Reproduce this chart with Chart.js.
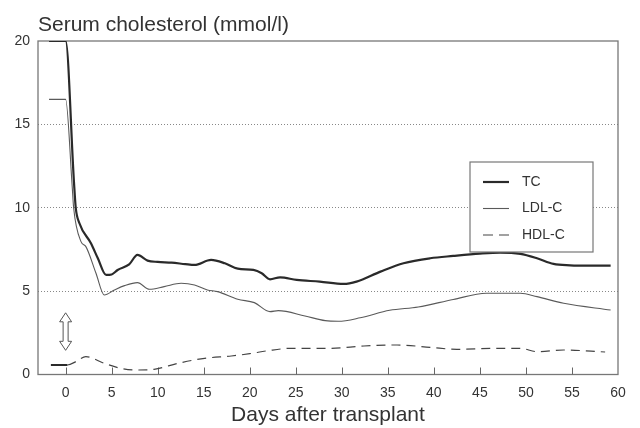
<!DOCTYPE html>
<html>
<head>
<meta charset="utf-8">
<script src="https://cdn.jsdelivr.net/npm/chart.js@4.4.0/dist/chart.umd.min.js"></script>
<style>
  html, body { margin: 0; padding: 0; background: #fff; }
  #wrap { width: 640px; height: 428px; }
</style>
</head>
<body>
<div id="wrap"><canvas id="myChart" width="640" height="428"></canvas></div>
<script>
// values
const tcDays = [-1.8, 0, 0.9, 1.1, 1.5, 2.75, 3.5, 4.4, 5.0, 5.65, 6.9, 7.8, 8.9, 10, 11.5, 13, 14, 15.8, 17.3, 18.7, 20.4, 21.3, 22.2, 23.3, 25.1, 27.6, 30.2, 31.6, 34.2, 36.7, 39.6, 42.1, 45, 47.2, 49.4, 51.2, 53, 54.8, 57, 59.2];
const tcValues = [20, 20, 11.6, 10.0, 9.07, 7.87, 6.97, 5.97, 6.0, 6.27, 6.6, 7.17, 6.83, 6.75, 6.71, 6.62, 6.57, 6.87, 6.67, 6.35, 6.27, 6.07, 5.71, 5.83, 5.67, 5.57, 5.43, 5.57, 6.17, 6.67, 6.97, 7.11, 7.25, 7.31, 7.23, 6.97, 6.63, 6.55, 6.53, 6.53];

const ldlDays = [-1.8, 0, 0.7, 0.87, 1.67, 2.2, 3.3, 4.2, 5.3, 6.4, 7.8, 9.1, 10.7, 12.55, 14, 15.4, 16.5, 18.7, 20.5, 22.2, 23.1, 26, 28.2, 29.6, 32, 35.2, 38.3, 42.1, 45.7, 49.4, 51.2, 54.1, 59.2];
const ldlValues = [16.5, 16.5, 11.4, 10.0, 7.97, 7.67, 6.07, 4.77, 5.07, 5.33, 5.51, 5.11, 5.27, 5.47, 5.37, 5.07, 4.97, 4.51, 4.31, 3.77, 3.83, 3.51, 3.23, 3.19, 3.4, 3.85, 4.05, 4.5, 4.87, 4.87, 4.67, 4.27, 3.87];

const hdlDays = [-1.6, 0.2, 1.2, 2.2, 4.2, 6.0, 7.8, 9.6, 12.2, 15.1, 18, 20, 22, 24.5, 28.7, 32.4, 36, 39.6, 42.5, 46.8, 49.4, 51.2, 54.1, 58.6];
const hdlValues = [0.57, 0.57, 0.8, 1.07, 0.67, 0.37, 0.27, 0.31, 0.67, 0.97, 1.11, 1.25, 1.43, 1.57, 1.57, 1.71, 1.77, 1.63, 1.51, 1.57, 1.57, 1.37, 1.47, 1.35];

const seriesLabels = ['TC', 'LDL-C', 'HDL-C'];
const yTicks = [0, 5, 10, 15, 20];
const chartTitle = 'Serum cholesterol (mmol/l)';
const xTitle = 'Days after transplant';
// the hollow double arrow on day 0
const arrowDay = 0;
const arrowRange = [1.45, 3.7];

const ink = '#333';
Chart.defaults.font.family = '"Liberation Sans", Arial, Helvetica, sans-serif';
Chart.defaults.color = ink;

function pts(days, vals) {
  return days.map((d, i) => ({ x: d, y: vals[i] }));
}

const dashHDL = [9, 6];

const decor = {
  id: 'decor',
  beforeDatasetsDraw(chart) {
    const { ctx, chartArea: a, scales } = chart;
    ctx.save();
    // frame
    ctx.strokeStyle = '#777';
    ctx.lineWidth = 1.3;
    ctx.strokeRect(a.left, a.top, a.right - a.left, a.bottom - a.top);
    // inward x ticks
    ctx.lineWidth = 1;
    ctx.strokeStyle = '#666';
    scales.x.ticks.forEach(t => {
      if (t.value < 0 || t.value >= 60) return;
      const px = Math.round(scales.x.getPixelForValue(t.value)) + 0.5;
      ctx.beginPath();
      ctx.moveTo(px, a.bottom);
      ctx.lineTo(px, a.bottom - 7);
      ctx.stroke();
    });
    ctx.restore();
  },
  afterDraw(chart) {
    const { ctx, chartArea: a, scales } = chart;
    ctx.save();
    // title
    ctx.fillStyle = ink;
    ctx.font = '21px "Liberation Sans", Arial, sans-serif';
    ctx.textBaseline = 'alphabetic';
    ctx.textAlign = 'left';
    ctx.fillText(chartTitle, a.left, 30.5);

    // double arrow
    const cx = scales.x.getPixelForValue(arrowDay);
    const yT = scales.y.getPixelForValue(arrowRange[1]);
    const yB = scales.y.getPixelForValue(arrowRange[0]);
    const hw = 6, hh = 9, sw = 2.5;
    ctx.beginPath();
    ctx.moveTo(cx, yT);
    ctx.lineTo(cx + hw, yT + hh);
    ctx.lineTo(cx + sw, yT + hh);
    ctx.lineTo(cx + sw, yB - hh);
    ctx.lineTo(cx + hw, yB - hh);
    ctx.lineTo(cx, yB);
    ctx.lineTo(cx - hw, yB - hh);
    ctx.lineTo(cx - sw, yB - hh);
    ctx.lineTo(cx - sw, yT + hh);
    ctx.lineTo(cx - hw, yT + hh);
    ctx.closePath();
    ctx.strokeStyle = '#555';
    ctx.lineWidth = 1;
    ctx.stroke();

    // legend box
    const bx = a.right - 148, by = 162, bw = 123, bh = 90;
    ctx.fillStyle = '#fff';
    ctx.fillRect(bx, by, bw, bh);
    ctx.strokeStyle = '#777';
    ctx.lineWidth = 1.2;
    ctx.strokeRect(bx, by, bw, bh);
    ctx.font = '14px "Liberation Sans", Arial, sans-serif';
    ctx.textBaseline = 'middle';
    chart.data.datasets.forEach((ds, i) => {
      const ly = by + 20 + i * 26.5;
      ctx.beginPath();
      ctx.strokeStyle = ds.borderColor;
      ctx.lineWidth = ds.borderWidth;
      ctx.setLineDash(i === 2 ? [10, 6] : []);
      ctx.moveTo(bx + 13, ly);
      ctx.lineTo(bx + 39, ly);
      ctx.stroke();
      ctx.setLineDash([]);
      ctx.fillStyle = ink;
      ctx.fillText(ds.label, bx + 52, ly);
    });
    ctx.restore();
  }
};

const myChart = new Chart('myChart', {
  type: 'line',
  data: {
    datasets: [{
      label: seriesLabels[0],
      data: pts(tcDays, tcValues),
      borderColor: '#2a2a2a',
      borderWidth: 2.2,
      pointRadius: 0,
      cubicInterpolationMode: 'monotone'
    }, {
      label: seriesLabels[1],
      data: pts(ldlDays, ldlValues),
      borderColor: '#5a5a5a',
      borderWidth: 1.1,
      pointRadius: 0,
      cubicInterpolationMode: 'monotone'
    }, {
      label: seriesLabels[2],
      data: pts(hdlDays, hdlValues),
      borderColor: '#444',
      borderWidth: 1.2,
      pointRadius: 0,
      cubicInterpolationMode: 'monotone',
      segment: {
        borderDash: c => c.p0.parsed.x < 0 ? [] : dashHDL,
        borderWidth: c => c.p0.parsed.x < 0 ? 2.2 : 1.2,
        borderColor: c => c.p0.parsed.x < 0 ? '#2a2a2a' : '#444'
      }
    }]
  },
  options: {
    responsive: false,
    animation: false,
    layout: { padding: { top: 41, right: 22, left: 0, bottom: 0 } },
    plugins: { legend: { display: false }, tooltip: { enabled: false } },
    scales: {
      x: {
        type: 'linear',
        min: -3,
        max: 60,
        ticks: { stepSize: 5, includeBounds: false, padding: 10, font: { size: 14 }, color: ink, maxRotation: 0 },
        grid: { display: false, drawTicks: false },
        border: { display: false },
        title: { display: true, text: xTitle, font: { size: 21 }, color: ink, padding: { top: 0, bottom: 0 } },
        afterFit: s => { s.height = 53.5; }
      },
      y: {
        min: 0,
        max: 20,
        afterBuildTicks: s => { s.ticks = yTicks.map(v => ({ value: v })); },
        ticks: { padding: 8, font: { size: 14 }, color: ink },
        grid: {
          drawTicks: false,
          color: c => (c.tick.value === 0 || c.tick.value === 20) ? 'rgba(0,0,0,0)' : '#888',
          lineWidth: 1
        },
        border: { display: false, dash: [1, 2] },
        afterFit: s => { s.width = 38; }
      }
    }
  },
  plugins: [decor]
});
</script>
</body>
</html>
